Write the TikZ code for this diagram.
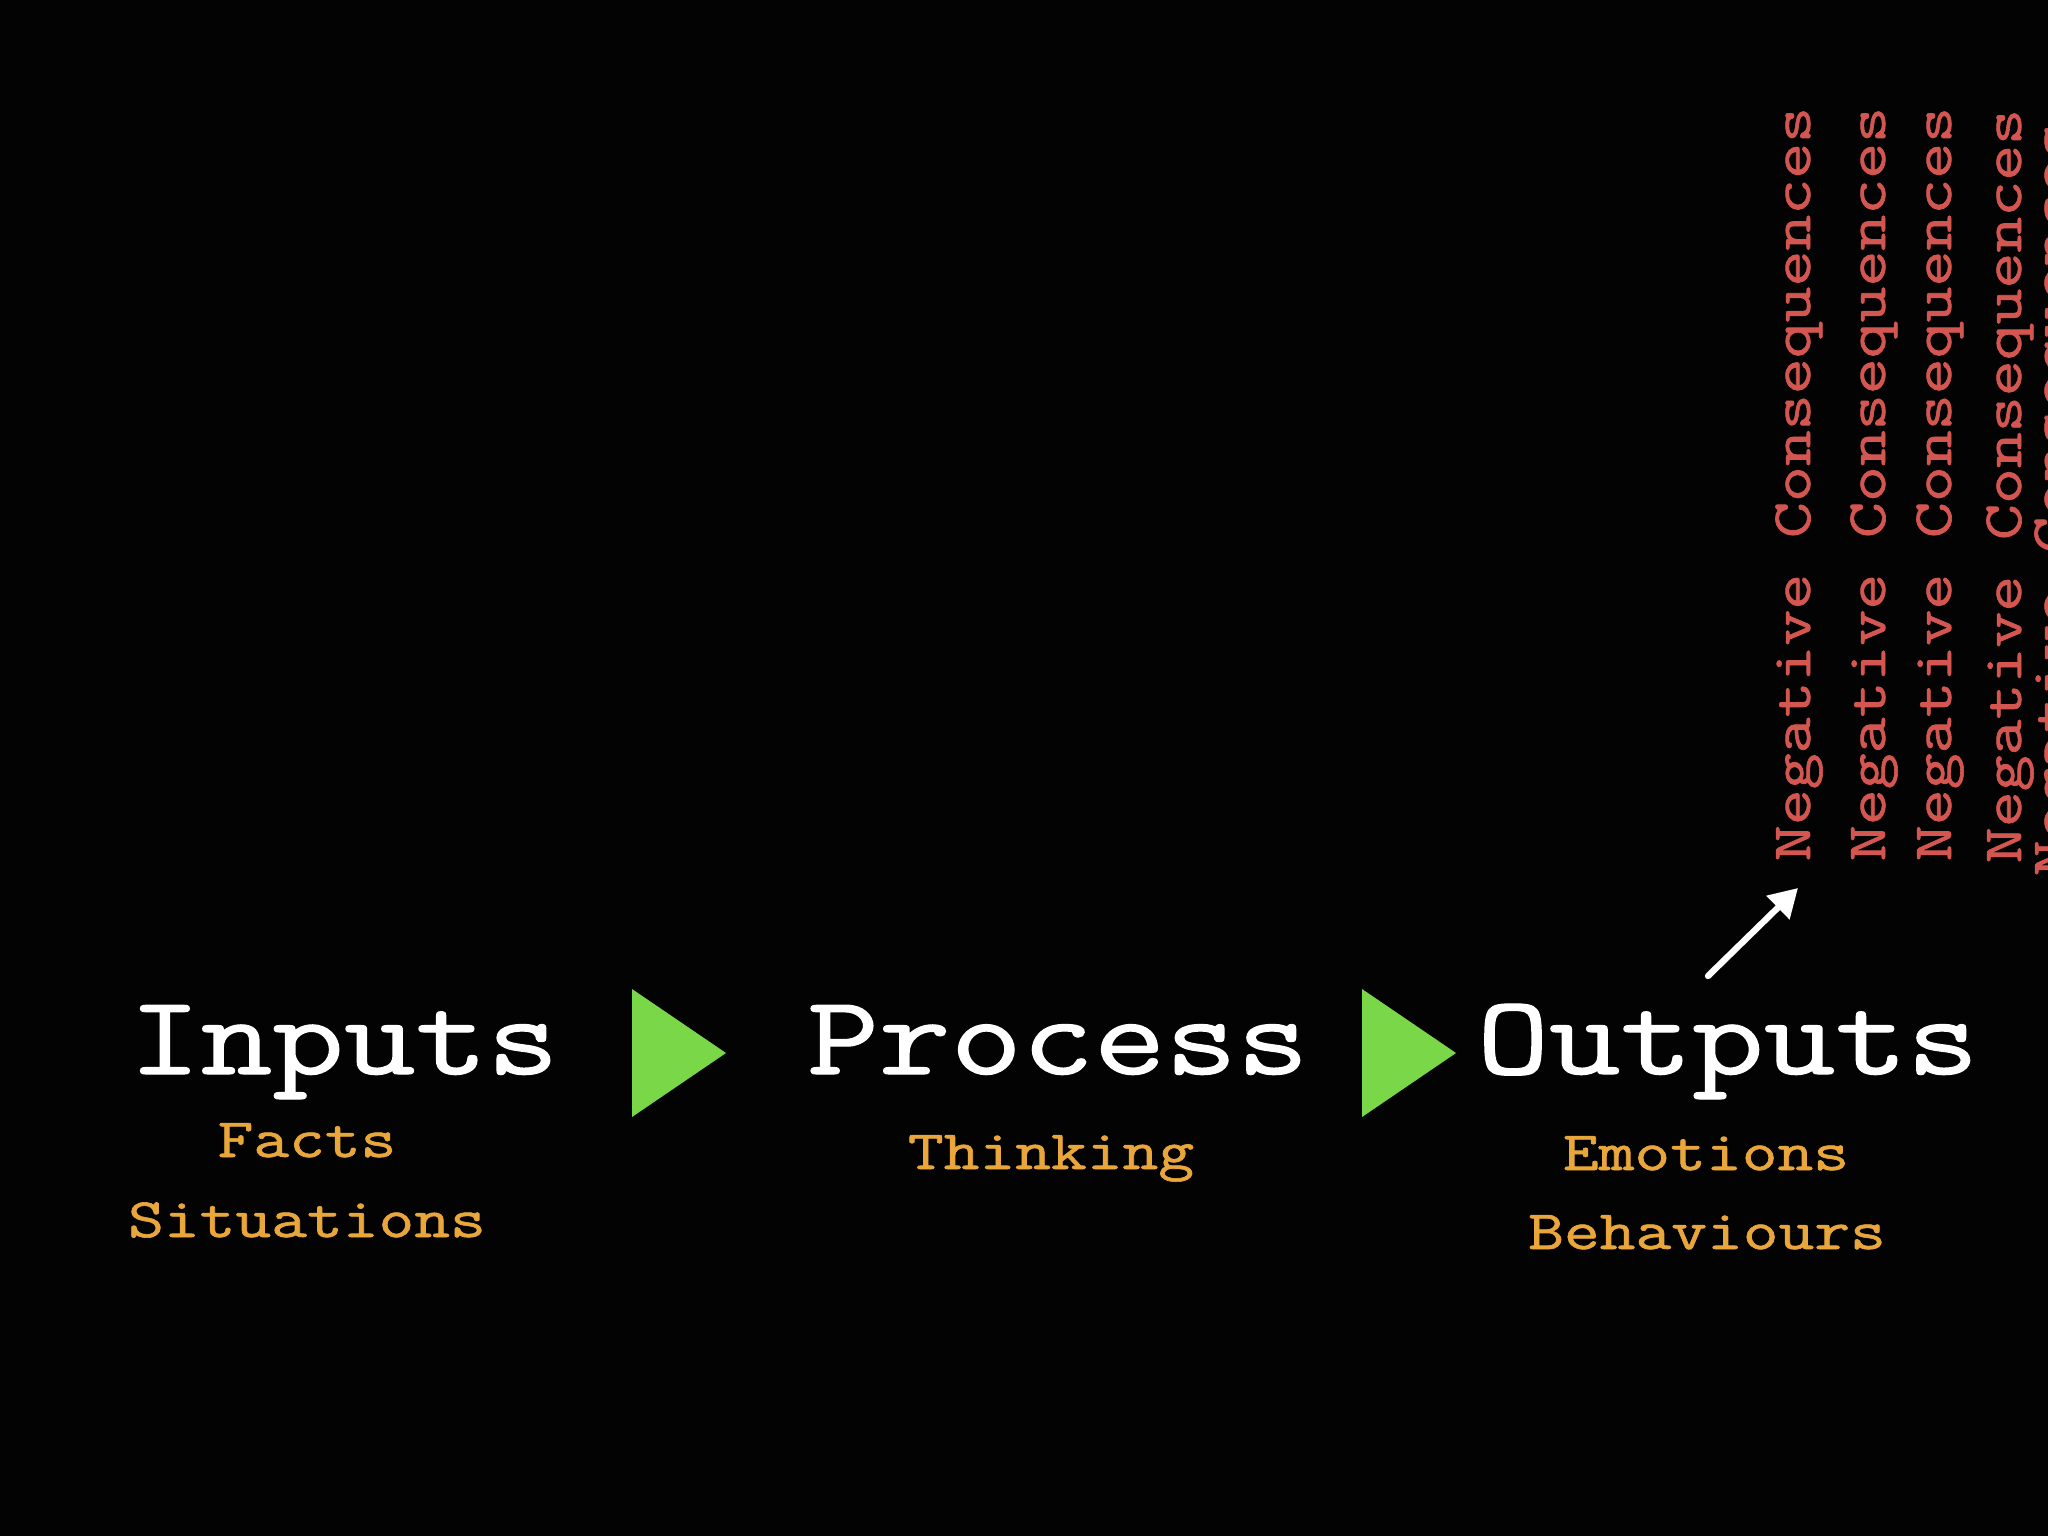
\documentclass[tikz,border=0pt]{standalone}
\usepackage{fontspec}
\newfontfamily\slidett{Latin Modern Mono}[UprightFeatures={FakeBold=1.1}]
\usetikzlibrary{arrows.meta}
\definecolor{slidec}{RGB}{3,3,3}
\definecolor{headc}{RGB}{255,255,255}
\definecolor{subc}{RGB}{233,166,58}
\definecolor{negc}{RGB}{212,86,80}
\definecolor{playc}{RGB}{122,216,72}

\begin{document}
\begin{tikzpicture}[x=0.01cm, y=-0.01cm, >=Triangle, line cap=round,
  head/.style={headc, inner sep=0, anchor=base, xscale=1.236, font=\slidett\fontsize{32}{38}\selectfont},
  sub/.style={subc, inner sep=0, anchor=base, xscale=1.25, font=\slidett\fontsize{15.8}{19}\selectfont},
  neg/.style={negc, inner sep=0, anchor=base west, rotate=90, xscale=1.255, font=\slidett\fontsize{15.8}{19}\selectfont}]
  \useasboundingbox (0,0) rectangle (2048,1536);
  \clip (0,0) rectangle (2048,1536);
  \fill[slidec] (0,0) rectangle (2048,1536);

  % three stages
  \node[head] (inputs)  at (344,1074) {Inputs};
  \node[head] (process) at (1058,1074) {Process};
  \node[head] (outputs) at (1728,1074) {Outputs};

  % what each stage holds
  \node[sub] (facts)      at (307,1157) {Facts};
  \node[sub] (situations) at (307,1237) {Situations};
  \node[sub] (thinking)   at (1051,1169) {Thinking};
  \node[sub] (emotions)   at (1706,1170) {Emotions};
  \node[sub] (behaviours) at (1707,1249) {Behaviours};

  % green play triangles between the stages
  \foreach \tx in {632,1362}{
    \fill[playc] (\tx,989) -- ++(94,64) -- ++(-94,64) -- cycle;
  }

  % stacked consequences, last one runs off the slide
  \foreach \i/\bx/\by in {1/1810/862, 2/1885/862, 3/1951/862, 4/2021/864, 5/2069/877}{
    \node[neg] (neg\i) at (\bx,\by) {Negative Consequences};
  }

  % chalk arrow up to the consequences
  \coordinate (arrfrom) at (1708,976);
  \coordinate (arrto) at (1798,888);
  \draw[->, headc, line width=1.8pt, arrows={-Triangle[length=8pt, width=9pt]}] (arrfrom) -- (arrto);
\end{tikzpicture}
\end{document}
